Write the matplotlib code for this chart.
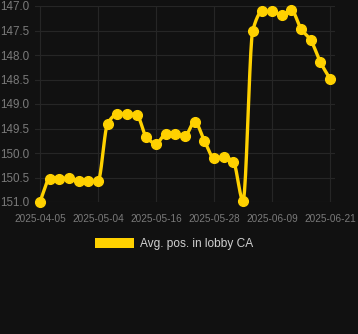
import numpy as np
import matplotlib
matplotlib.use("Agg")
import matplotlib.pyplot as plt
from matplotlib.patches import Patch

dates = ["2025-04-05", "2025-04-24", "2025-04-26", "2025-04-28", "2025-04-30", "2025-05-02",
         "2025-05-04", "2025-05-06", "2025-05-08", "2025-05-10", "2025-05-12", "2025-05-14",
         "2025-05-16", "2025-05-18", "2025-05-20", "2025-05-22", "2025-05-24", "2025-05-26",
         "2025-05-28", "2025-05-30", "2025-06-01", "2025-06-03", "2025-06-05", "2025-06-07",
         "2025-06-09", "2025-06-11", "2025-06-13", "2025-06-15", "2025-06-17", "2025-06-19",
         "2025-06-21"]
avg_pos = [151.0, 150.54, 150.53, 150.51, 150.58, 150.58,
           150.58, 149.40, 149.21, 149.20, 149.22, 149.67,
           149.81, 149.62, 149.62, 149.65, 149.36, 149.75,
           150.10, 150.08, 150.18, 150.97, 147.50, 147.11,
           147.11, 147.18, 147.09, 147.47, 147.70, 148.15,
           148.49]
series_name = "Avg. pos. in lobby CA"
y_ticks = [147.0, 147.5, 148.0, 148.5, 149.0, 149.5, 150.0, 150.5, 151.0]

BG = "#111111"
YELLOW = "#FFD100"
GRID = "#262626"
TXT = "#7a7a7a"

def pchip(x, y, n=20):
    x = np.asarray(x, float); y = np.asarray(y, float)
    h = np.diff(x); d = np.diff(y) / h
    m = np.zeros_like(y)
    for k in range(1, len(y) - 1):
        if d[k - 1] * d[k] > 0:
            w1 = 2 * h[k] + h[k - 1]; w2 = h[k] + 2 * h[k - 1]
            m[k] = (w1 + w2) / (w1 / d[k - 1] + w2 / d[k])
    m[0] = d[0]; m[-1] = d[-1]
    xs, ys = [], []
    for k in range(len(x) - 1):
        t = np.linspace(0, 1, n, endpoint=False)
        h00 = 2*t**3 - 3*t**2 + 1; h10 = t**3 - 2*t**2 + t
        h01 = -2*t**3 + 3*t**2; h11 = t**3 - t**2
        xs.append(x[k] + t * h[k])
        ys.append(h00*y[k] + h10*h[k]*m[k] + h01*y[k+1] + h11*h[k]*m[k+1])
    xs.append([x[-1]]); ys.append([y[-1]])
    return np.concatenate(xs), np.concatenate(ys)

plt.rcParams['font.family'] = ['Liberation Sans', 'DejaVu Sans']

fig = plt.figure(figsize=(3.58, 3.34), dpi=100, facecolor=BG)
ax = fig.add_axes([35/358, 1 - 202/334, 300/358, 196/334])
ax.set_facecolor(BG)

xi = np.arange(len(avg_pos))
sx, sy = pchip(xi, avg_pos)
ax.plot(sx, sy, color=YELLOW, lw=2.4, zorder=3, clip_on=False, solid_capstyle='round')
ax.plot(xi, avg_pos, 'o', color=YELLOW, ms=7.0, zorder=4, clip_on=False)

ax.set_xlim(-0.5, len(avg_pos) - 0.5)
ax.set_ylim(151.0, 147.0)
ax.set_yticks(y_ticks)
ax.set_yticklabels([f"{v:.1f}" for v in y_ticks])
tick_idx = list(range(0, len(dates), 6))
ax.set_xticks(tick_idx)
ax.set_xticklabels([dates[i] for i in tick_idx])
ax.tick_params(axis='both', length=0, colors=TXT)
ax.tick_params(axis='x', pad=9, labelsize=7.2)
ax.tick_params(axis='y', pad=4.0, labelsize=8.4)
ax.grid(True, color=GRID, lw=0.8)
ax.set_axisbelow(True)
for s in ax.spines.values():
    s.set_visible(False)

handle = Patch(facecolor=YELLOW, edgecolor='none')
fig.legend([handle], [series_name], loc='center', bbox_to_anchor=(174/358, 1 - 244/334),
           frameon=False, fontsize=8.6, labelcolor='#d0d0d0', handlelength=3.3,
           handleheight=1.0, handletextpad=0.5)

fig.savefig("out.png", dpi=100, facecolor=BG)
